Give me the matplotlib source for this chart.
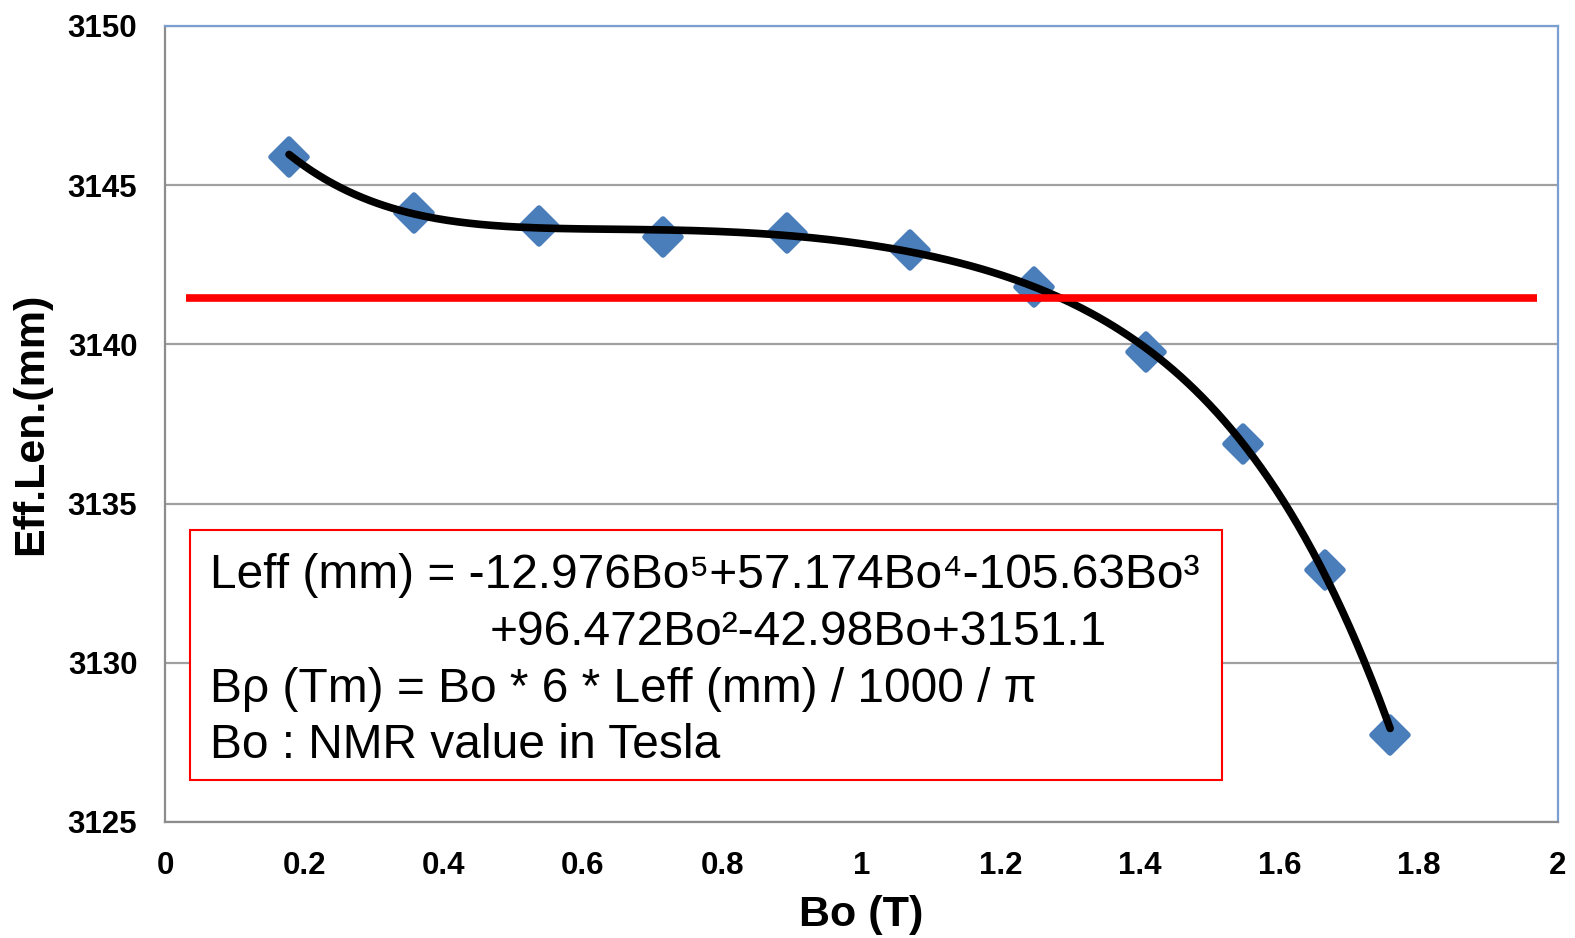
import numpy as np
from matplotlib import pyplot as plt
from matplotlib.patches import Rectangle
from matplotlib.markers import MarkerStyle

# measured points: Bo (T) vs effective length (mm)
bo = [0.178, 0.357, 0.537, 0.715, 0.893, 1.070, 1.248, 1.408, 1.548, 1.665, 1.759]
leff = [3145.89, 3144.13, 3143.72, 3143.37, 3143.50, 3142.96, 3141.80,
        3139.76, 3136.87, 3132.91, 3127.73]

# 5th order fit coefficients as printed on the chart
fit_coefs = [-12.976, 57.174, -105.63, 96.472, -42.98, 3151.1]

# red reference level
ref_level = 3141.46
ref_span = [0.03, 1.97]

xticks = [0, 0.2, 0.4, 0.6, 0.8, 1, 1.2, 1.4, 1.6, 1.8, 2]
xtick_labels = ['0', '0.2', '0.4', '0.6', '0.8', '1', '1.2', '1.4', '1.6', '1.8', '2']
yticks = [3125, 3130, 3135, 3140, 3145, 3150]

box_lines = [
    'Leff (mm) = -12.976Bo\u2075+57.174Bo\u2074-105.63Bo\u00b3',
    '+96.472Bo\u00b2-42.98Bo+3151.1',
    'B\u03c1 (Tm) = Bo * 6 * Leff (mm) / 1000 / \u03c0',
    'Bo : NMR value in Tesla',
]

plt.rcParams['font.family'] = ['Liberation Sans', 'DejaVu Sans']

fig = plt.figure(figsize=(15.75, 9.38), dpi=100)
ax = fig.add_axes([0.1048, 0.1237, 0.8844, 0.8486])

ax.set_xlim(0, 2)
ax.set_ylim(3125, 3150)
ax.set_xticks(xticks)
ax.set_xticklabels(xtick_labels)
ax.set_yticks(yticks)
ax.tick_params(length=0, labelsize=22.5)
ax.tick_params(axis='y', pad=20)
ax.tick_params(axis='x', pad=21)
for lab in ax.get_xticklabels() + ax.get_yticklabels():
    lab.set_fontweight('bold')

ax.grid(axis='y', color='#a0a0a0', linewidth=1.6)
ax.set_axisbelow(True)
for side in ['left', 'bottom']:
    ax.spines[side].set_color('#8c8c8c')
    ax.spines[side].set_linewidth(1.6)
for side in ['top', 'right']:
    ax.spines[side].set_color('#7a9fd0')
    ax.spines[side].set_linewidth(1.6)

ax.set_xlabel('Bo (T)', fontsize=31, fontweight='bold', labelpad=10)
ax.set_ylabel('Eff.Len.(mm)', fontsize=31, fontweight='bold', labelpad=12)

diamond = MarkerStyle('D', joinstyle='round')
ax.plot(bo, leff, linestyle='none', marker=diamond, markersize=18,
        markerfacecolor='#4a7ebb', markeredgecolor='#4a7ebb',
        markeredgewidth=4, zorder=3)

xs = np.linspace(bo[0], bo[-1], 300)
ax.plot(xs, np.polyval(fit_coefs, xs), color='black', linewidth=5.5,
        solid_capstyle='round', zorder=4)

ax.plot(ref_span, [ref_level, ref_level], color='#ff0000', linewidth=5.5,
        solid_capstyle='butt', zorder=4)

ax.add_patch(Rectangle((0.036, 3126.32), 1.482, 7.85, transform=ax.transData,
                       facecolor='white', edgecolor='#ff0000', linewidth=1.5,
                       zorder=5))

txt_x = [210, 490, 210, 210]
txt_y = [588, 645, 702, 758]
for s, px, py in zip(box_lines, txt_x, txt_y):
    fig.text(px / 1575, 1 - py / 938, s, fontsize=34.5,
             ha='left', va='baseline', zorder=6)

fig.savefig('out.png', dpi=100)
